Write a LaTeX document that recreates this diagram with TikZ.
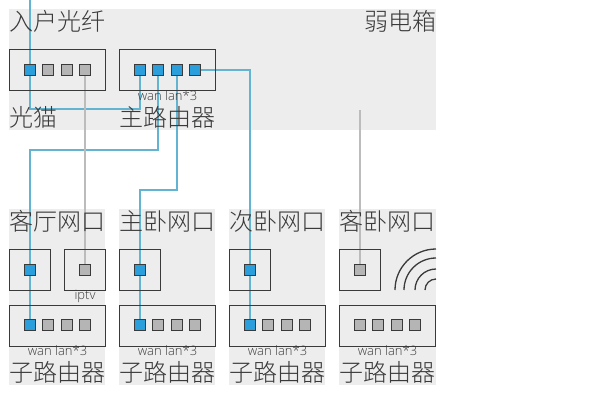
\documentclass[tikz,border=0pt]{standalone}
\usepackage{fontspec}
\setmainfont{Noto Sans CJK SC Light}
\newfontfamily\latinfont{Open Sans Light}
\definecolor{panelgray}{HTML}{EDEDED}
\definecolor{wireblue}{HTML}{62B4D0}
\definecolor{portblue}{HTML}{2A9FDB}
\definecolor{wiregray}{HTML}{BCBCBC}
\definecolor{portgray}{HTML}{B5B5B5}
\definecolor{inkgray}{HTML}{3A3A3A}
\pgfdeclarelayer{panels}
\pgfdeclarelayer{wires}
\pgfsetlayers{panels,wires,main}
\tikzset{
  panel/.style={fill=panelgray,anchor=north west,inner sep=0pt},
  box/.style={draw=inkgray,line width=1.4pt,anchor=north west,inner sep=0pt},
  wideBox/.style={box,minimum width=96pt,minimum height=41pt},
  roomBox/.style={box,minimum width=41pt,minimum height=41pt},
  bluePort/.style={draw=inkgray,line width=1.3pt,fill=portblue,minimum size=11.5pt,inner sep=0pt},
  grayPort/.style={bluePort,fill=portgray},
  title/.style={font=\fontsize{24}{24}\selectfont,color=inkgray,inner sep=0pt},
  small/.style={font=\latinfont\fontsize{13}{13}\selectfont,color=inkgray,inner sep=0pt},
  blueWire/.style={draw=wireblue,line width=1.3pt},
  grayWire/.style={draw=wiregray,line width=1.3pt},
  wifi/.style={draw=inkgray,line width=1.3pt}
}
\begin{document}
\begin{tikzpicture}[x=1pt,y=-1pt]
    \useasboundingbox (0,0) rectangle (610,400);
    \begin{pgfonlayer}{panels}
    \node[panel,minimum width=427pt,minimum height=121pt] (box) at (9,9) {};
    \node[panel,minimum width=96pt,minimum height=176pt] (roomA) at (9,209) {};
    \node[panel,minimum width=96pt,minimum height=176pt] (roomB) at (119,209) {};
    \node[panel,minimum width=96pt,minimum height=176pt] (roomC) at (229,209) {};
    \node[panel,minimum width=97pt,minimum height=176pt] (roomD) at (339,209) {};
    \end{pgfonlayer}

    \node[title] (fiberT) at (57.5,21) {入户光纤};
    \node[title] (boxT) at (400,21) {弱电箱};
    \node[title] (modemT) at (33.5,117) {光猫};
    \node[title] (mainT) at (167.5,117) {主路由器};
    \node[title] (roomAT) at (57.5,221) {客厅网口};
    \node[title] (roomBT) at (167.5,221) {主卧网口};
    \node[title] (roomCT) at (277.5,221) {次卧网口};
    \node[title] (roomDT) at (387.5,221) {客卧网口};
    \node[title] (subAT) at (57.5,372) {子路由器};
    \node[title] (subBT) at (167.5,372) {子路由器};
    \node[title] (subCT) at (277.5,372) {子路由器};
    \node[title] (subDT) at (387.5,372) {子路由器};
    \node[small] (mainL) at (167.5,95.5) {wan lan*3};
    \node[small] (subAL) at (57.5,350.5) {wan lan*3};
    \node[small] (subBL) at (167.5,350.5) {wan lan*3};
    \node[small] (subCL) at (277.5,350.5) {wan lan*3};
    \node[small] (subDL) at (387.5,350.5) {wan lan*3};
    \node[small] (iptvL) at (85,296) {iptv};

    \node[wideBox] (modem) at (9,49) {};
    \node[wideBox] (main) at (119,49) {};
    \node[roomBox] (wallA) at (9,249) {};
    \node[roomBox] (wallE) at (64,249) {};
    \node[roomBox] (wallB) at (119,249) {};
    \node[roomBox] (wallC) at (229,249) {};
    \node[roomBox] (wallD) at (339,249) {};
    \node[wideBox] (subA) at (9,305) {};
    \node[wideBox] (subB) at (119,305) {};
    \node[wideBox] (subC) at (229,305) {};
    \node[wideBox] (subD) at (339,305) {};

    \node[bluePort] (m1) at (30,70) {};
    \node[grayPort] (m2) at (48,70) {};
    \node[grayPort] (m3) at (67,70) {};
    \node[grayPort] (m4) at (85,70) {};
    \node[bluePort] (r1) at (140,70) {};
    \node[bluePort] (r2) at (158,70) {};
    \node[bluePort] (r3) at (177,70) {};
    \node[bluePort] (r4) at (195,70) {};
    \node[bluePort] (wA) at (30,270) {};
    \node[grayPort] (wE) at (85,270) {};
    \node[bluePort] (wB) at (140,270) {};
    \node[bluePort] (wC) at (250,270) {};
    \node[grayPort] (wD) at (360,270) {};
    \node[bluePort] (a1) at (30,325) {};
    \node[grayPort] (a2) at (48,325) {};
    \node[grayPort] (a3) at (67,325) {};
    \node[grayPort] (a4) at (85,325) {};
    \node[bluePort] (b1) at (140,325) {};
    \node[grayPort] (b2) at (158,325) {};
    \node[grayPort] (b3) at (177,325) {};
    \node[grayPort] (b4) at (195,325) {};
    \node[bluePort] (c1) at (250,325) {};
    \node[grayPort] (c2) at (268,325) {};
    \node[grayPort] (c3) at (287,325) {};
    \node[grayPort] (c4) at (305,325) {};
    \node[grayPort] (d1) at (360,325) {};
    \node[grayPort] (d2) at (378,325) {};
    \node[grayPort] (d3) at (397,325) {};
    \node[grayPort] (d4) at (415,325) {};

    \coordinate (fiber) at (30,0);
    \coordinate (modemTurn) at (30,109);
    \coordinate (mainTurn) at (140,109);
    \coordinate (roomATurn) at (30,150);
    \coordinate (roomBTurn) at (140,190);
    \coordinate (roomDEnd) at (360,110);

    \begin{pgfonlayer}{wires}
    \draw [blueWire] (fiber) -- (m1);
    \draw [blueWire] (m1) -- (modemTurn) -- (mainTurn) -- (r1);
    \draw [blueWire] (r2) |- (roomATurn) -- (wA);
    \draw [blueWire] (wA) -- (a1);
    \draw [blueWire] (r3) |- (roomBTurn) -- (wB);
    \draw [blueWire] (wB) -- (b1);
    \draw [blueWire] (r4) -| (wC);
    \draw [blueWire] (wC) -- (c1);
    \draw [grayWire] (m4) -- (wE);
    \draw [grayWire] (roomDEnd) -- (wD);
    \end{pgfonlayer}

    % wifi
    \draw [wifi] (395,290) arc[start angle=180,end angle=270,radius=41];
    \draw [wifi] (404,290) arc[start angle=180,end angle=270,radius=32];
    \draw [wifi] (415,290) arc[start angle=180,end angle=270,radius=21];
    \draw [wifi] (425,290) arc[start angle=180,end angle=270,radius=11];
\end{tikzpicture}
\end{document}
